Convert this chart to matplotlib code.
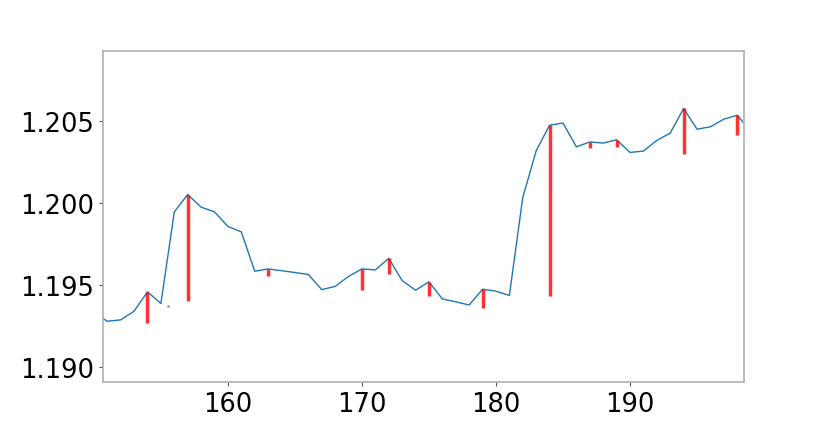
import matplotlib
matplotlib.use("Agg")
import matplotlib.pyplot as plt

x = list(range(150, 200))
y = [1.19330, 1.19281, 1.19289, 1.19342, 1.19460, 1.19389, 1.19948, 1.20054,
     1.19977, 1.19948, 1.19859, 1.19826, 1.19586, 1.19600, 1.19589, 1.19578,
     1.19566, 1.19474, 1.19493, 1.19554, 1.19600, 1.19594, 1.19664, 1.19529,
     1.19470, 1.19521, 1.19417, 1.19399, 1.19380, 1.19476, 1.19464, 1.19438,
     1.20036, 1.20321, 1.20477, 1.20490, 1.20345, 1.20375, 1.20368, 1.20388,
     1.20311, 1.20319, 1.20384, 1.20429, 1.20579, 1.20453, 1.20467, 1.20514,
     1.20538, 1.20441]

bar_x = [154, 157, 163, 170, 172, 175, 179, 184, 187, 189, 194, 198]
bar_high = [1.19460, 1.20054, 1.19600, 1.19600, 1.19664, 1.19521, 1.19476,
            1.20477, 1.20375, 1.20388, 1.20579, 1.20538]
bar_low = [1.19269, 1.19405, 1.19557, 1.19470, 1.19566, 1.19433, 1.19362,
           1.19432, 1.20335, 1.20345, 1.20300, 1.20416]

dot_x = [155.5]
dot_y = [1.19371]

fig = plt.figure(figsize=(8.28, 4.31), dpi=100)
ax = fig.add_axes([0.1244, 0.1114, 0.7742, 0.768])
ax.plot(x, y, color='#1f77b4', lw=1.0)
ax.vlines(bar_x, bar_low, bar_high, color='red', alpha=0.8, lw=2.5)
ax.plot(dot_x, dot_y, 'o', ms=1, color='gray', alpha=0.7)

ax.set_xlim(150.68, 198.51)
ax.set_ylim(1.1891, 1.2093)
ax.set_xticks([160, 170, 180, 190])
ax.set_yticks([1.190, 1.195, 1.200, 1.205])
ax.set_yticklabels(['1.190', '1.195', '1.200', '1.205'])
ax.tick_params(labelsize=18.5, length=3, color='#555555', width=0.8)
for s in ax.spines.values():
    s.set_color('#b0b0b0')
    s.set_linewidth(1.2)

fig.savefig('out.png', dpi=100)
